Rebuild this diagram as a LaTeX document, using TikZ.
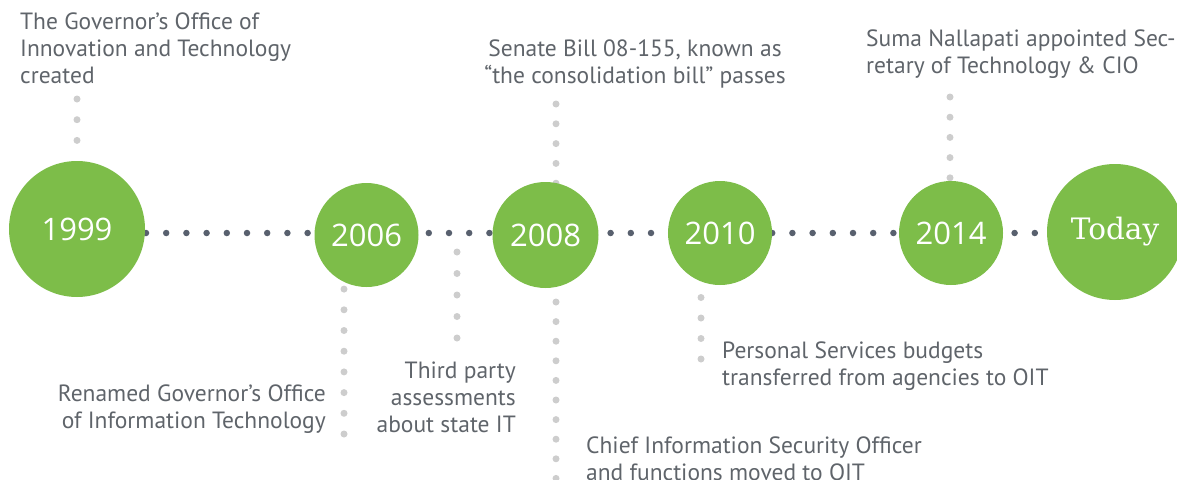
\documentclass[tikz,border=0pt]{standalone}
\usepackage{fontspec}
\setmainfont{PT Sans}
\newfontfamily\yearfont{Open Sans}
\newfontfamily\todayfont{DejaVu Serif}
\usetikzlibrary{backgrounds}

\definecolor{leaf}{RGB}{125,189,73}
\definecolor{slatedot}{RGB}{88,96,110}
\definecolor{paledot}{RGB}{205,205,205}
\definecolor{inkgray}{RGB}{95,100,106}

\tikzset{
  yearbubble/.style={circle, fill=leaf, inner sep=0pt, text=white,
    font=\yearfont\fontsize{31}{31}\selectfont},
  todaybubble/.style={yearbubble, font=\todayfont\fontsize{29.5}{29.5}\selectfont},
  eventtext/.style={inner sep=0pt, text=inkgray,
    font=\fontsize{23.5}{27}\selectfont},
  timeline/.style={draw=slatedot, line width=6.5pt, line cap=round,
    dash pattern=on 0pt off 20.2pt, dash phase=11.8pt},
  leader/.style={draw=paledot, line width=7pt, line cap=round,
    dash pattern=on 0pt off #1},
  leader/.default=20.7pt
}

\begin{document}
\begin{tikzpicture}[x=1pt, y=-1pt]
\useasboundingbox (0,0) rectangle (1177,479);

% year bubbles
\node[yearbubble, minimum size=136pt] (y1999) at (77,229) {1999};
\node[yearbubble, minimum size=104pt] (y2006) at (366.5,235) {2006};
\node[yearbubble, minimum size=106pt] (y2008) at (545.5,235) {2008};
\node[yearbubble, minimum size=104pt] (y2010) at (720,233) {2010};
\node[yearbubble, minimum size=104pt] (y2014) at (951,233) {2014};
\node[todaybubble, minimum size=136pt] (today) at (1115,232) {Today};

% event descriptions (anchored on the baseline of their last line)
\node[eventtext, anchor=base west, align=left] (t1999) at (20,83)
  {The Governor’s Office of\\Innovation and Technology\\created};
\node[eventtext, anchor=base, align=center] (t2008a) at (635,83)
  {Senate Bill 08-155, known as\\“the consolidation bill” passes};
\node[eventtext, anchor=base west, align=left] (t2014) at (866,73)
  {Suma Nallapati appointed Sec-\\retary of Technology \& CIO};
\node[eventtext, anchor=base east, align=right] (t2006) at (326,428)
  {Renamed Governor’s Office\\of Information Technology};
\node[eventtext, anchor=base east, align=right] (tthird) at (516,432)
  {Third party\\assessments\\about state IT};
\node[eventtext, anchor=base west, align=left] (t2010) at (722,385)
  {Personal Services budgets\\transferred from agencies to OIT};
\node[eventtext, anchor=base west, align=left] (t2008b) at (586,480)
  {Chief Information Security Officer\\and functions moved to OIT};

% free ends of the leader lines
\coordinate (tl) at (0,233);
\coordinate (l1999) at (77,99);
\coordinate (l2008a) at (556,104);
\coordinate (l2014) at (950,97);
\coordinate (l2006) at (344,434);
\coordinate (lthirdA) at (457,338);
\coordinate (lthirdB) at (457,252);
\coordinate (l2008b) at (556,302);
\coordinate (l2008c) at (556,482);
\coordinate (l2010) at (701,359);

\begin{scope}[on background layer]
  \draw[timeline] (y1999 |- tl) -- (today |- tl);
  \draw[leader] (l1999) -- (y1999);
  \draw[leader=19.8pt] (l2008a) -- (l2008a |- y2008);
  \draw[leader=20.2pt] (l2014) -- (l2014 |- y2014);
  \draw[leader] (l2006) -- (l2006 |- y2006);
  \draw[leader=21.5pt] (lthirdA) -- (lthirdB);
  \draw[leader=19.6pt] (l2008b) -- (l2008c);
  \draw[leader=20.5pt] (l2010) -- (l2010 |- y2010);
\end{scope}
\end{tikzpicture}
\end{document}
